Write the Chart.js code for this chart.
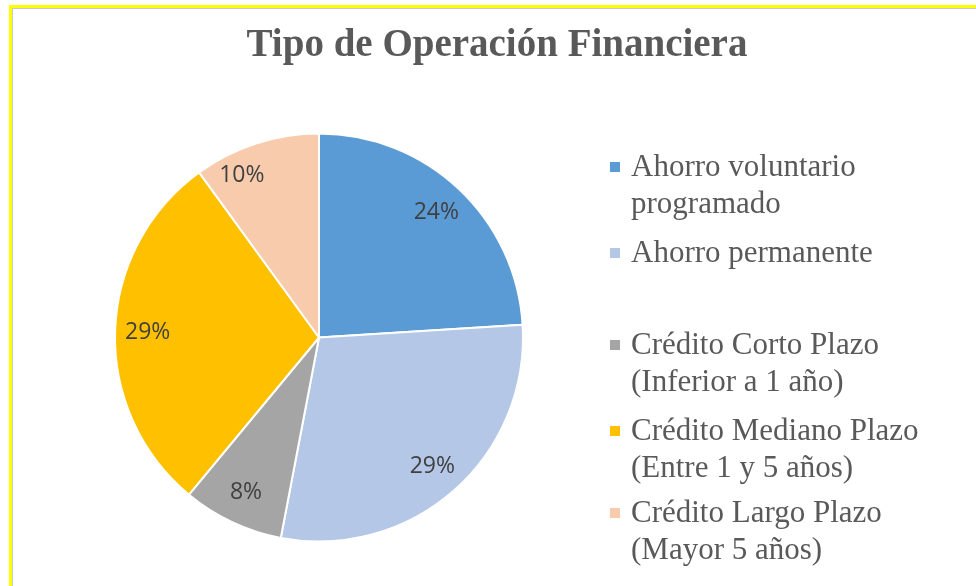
<!DOCTYPE html>
<html>
<head>
<meta charset="utf-8">
<script src="https://cdn.jsdelivr.net/npm/chart.js@4.4.1/dist/chart.umd.min.js"></script>
<style>
  html, body { margin: 0; padding: 0; background: #fff; }
  body { width: 976px; height: 586px; position: relative; overflow: hidden; }
  #frame {
    position: absolute; left: 9px; top: 5px; width: 980px; height: 578px;
    border-top: 3px solid #ffff00; border-left: 3px solid #ffff00;
    border-bottom: 3px solid #dedbc8;
    box-shadow: inset 1px 1px 0 #c8c8c8;
  }
  #pie { position: absolute; left: 0; top: 0; }
  #title {
    position: absolute; left: 0; width: 994px; top: 23px; text-align: center;
    font: bold 39px "Liberation Serif", "Times New Roman", serif; line-height: 39px;
    color: #595959; white-space: nowrap;
  }
  .lg-box { position: absolute; width: 10px; height: 10px; }
  .lg-txt {
    position: absolute; left: 631px; font: 31px "Liberation Serif", "Times New Roman", serif;
    line-height: 31px; color: #595959; white-space: nowrap;
  }
</style>
</head>
<body>
<div id="frame"></div>
<canvas id="pie" width="976" height="586"></canvas>
<div id="title">Tipo de Operación Financiera</div>
<div id="legend"></div>
<script>
// Tipo de operación - porcentajes
const labels = [
  ["Ahorro voluntario", "programado"],
  ["Ahorro permanente"],
  ["Crédito Corto Plazo", "(Inferior a 1 año)"],
  ["Crédito Mediano Plazo", "(Entre 1 y 5 años)"],
  ["Crédito Largo Plazo", "(Mayor 5 años)"]
];
const values = [24, 29, 8, 29, 10];
const colors = ["#5b9bd5", "#b4c7e7", "#a5a5a5", "#ffc000", "#f8cbad"];

// baseline of the first line of each legend entry (px)
const legendBaselines = [176, 262, 354, 440, 522];
const lineGap = 37;

// legend in html so it sits where the picture has it
let legend = document.getElementById('legend');
for (let i = 0; i < labels.length; i++) {
    let b = legendBaselines[i];
    let box = document.createElement('div');
    box.className = 'lg-box';
    box.style.left = '610px';
    box.style.top = (b - 14) + 'px';
    box.style.background = colors[i];
    legend.appendChild(box);
    for (let j = 0; j < labels[i].length; j++) {
        let t = document.createElement('div');
        t.className = 'lg-txt';
        t.style.top = (b + j * lineGap - 26) + 'px';
        t.textContent = labels[i][j];
        legend.appendChild(t);
    }
}

// percentages inside the slices
const pctLabels = {
    id: 'pctLabels',
    afterDatasetsDraw(chart) {
        const ctx = chart.ctx;
        const arcs = chart.getDatasetMeta(0).data;
        ctx.save();
        ctx.font = '23px "Open Sans", sans-serif';
        ctx.fillStyle = '#404040';
        ctx.textAlign = 'center';
        ctx.textBaseline = 'middle';
        arcs.forEach(function (arc, i) {
            const p = arc.getProps(['x', 'y', 'startAngle', 'endAngle', 'outerRadius'], true);
            let mid = (p.startAngle + p.endAngle) / 2;
            let r = p.outerRadius * 0.84;
            // excel "best fit" pushes the small last slice's label a bit outward/left
            if (i === values.length - 1) {
                mid -= 0.13;
                r = p.outerRadius * 0.88;
            }
            ctx.fillText(values[i] + '%', p.x + Math.cos(mid) * r, p.y + Math.sin(mid) * r);
        });
        ctx.restore();
    }
};

let ctx = document.getElementById('pie').getContext('2d');
let myChart = new Chart(ctx, {
    type: 'pie',
    data: {
        labels: labels.map(l => l.join(' ')),
        datasets: [{
            data: values,
            backgroundColor: colors,
            borderColor: '#ffffff',
            borderWidth: 2
        }]
    },
    options: {
        responsive: false,
        animation: false,
        events: [],
        layout: { padding: { left: 114, top: 132, right: 452, bottom: 43 } },
        plugins: {
            legend: { display: false },
            title: { display: false },
            tooltip: { enabled: false }
        }
    },
    plugins: [pctLabels]
});
</script>
</body>
</html>
